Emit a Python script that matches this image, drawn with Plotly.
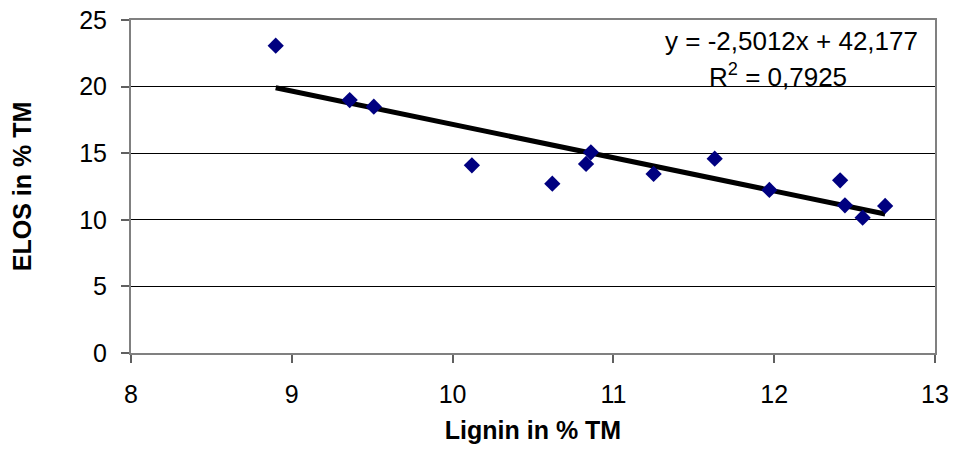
import plotly.graph_objects as go

# Data
lignin = [8.90, 9.36, 9.51, 10.12, 10.62, 10.83, 10.86, 11.25, 11.63, 11.97, 12.41, 12.44, 12.55, 12.69]
elos = [23.07, 18.99, 18.49, 14.09, 12.71, 14.19, 15.07, 13.44, 14.59, 12.24, 12.96, 11.09, 10.16, 11.04]

trend_slope = -2.5012
trend_intercept = 42.177
equation_text = "y = -2,5012x + 42,177"
r2_text = "R<sup>2</sup> = 0,7925"

x_ticks = [8, 9, 10, 11, 12, 13]
y_ticks = [0, 5, 10, 15, 20, 25]

FONT = "Liberation Sans, Arial, sans-serif"

trend_x = [min(lignin), max(lignin)]
trend_y = [trend_slope * v + trend_intercept for v in trend_x]

fig = go.Figure()
fig.add_trace(go.Scatter(
    x=trend_x, y=trend_y, mode="lines",
    line=dict(color="black", width=5),
    hoverinfo="skip", showlegend=False,
))
fig.add_trace(go.Scatter(
    x=lignin, y=elos, mode="markers",
    marker=dict(symbol="diamond", size=12.5, color="#000080", line=dict(width=0)),
    showlegend=False,
))

fig.update_layout(
    width=953, height=450,
    margin=dict(l=131, r=18, t=20, b=97, autoexpand=False),
    paper_bgcolor="white", plot_bgcolor="white",
    font=dict(family=FONT, size=25, color="black"),
    xaxis=dict(
        range=[8, 13], tickvals=x_ticks, showgrid=False, zeroline=False,
        showline=True, linecolor="#808080", linewidth=2, mirror=True,
        ticks="outside", ticklen=8, tickcolor="#606060", tickwidth=1.5,
        ticklabelstandoff=10, automargin=False,
        title=dict(text="<b>Lignin in % TM</b>", standoff=14, font=dict(size=25)),
    ),
    yaxis=dict(
        range=[0, 25], tickvals=y_ticks, showgrid=True, gridcolor="black", gridwidth=1,
        zeroline=False,
        showline=True, linecolor="#808080", linewidth=2, mirror=True,
        ticks="outside", ticklen=8, tickcolor="#606060", tickwidth=1.5,
        ticklabelstandoff=9, automargin=False,
        title=dict(text="<b>ELOS in % TM</b>", standoff=40, font=dict(size=25)),
    ),
    annotations=[
        dict(text=equation_text, xref="paper", yref="paper", x=0.822, y=0.936,
             xanchor="center", yanchor="middle", showarrow=False,
             font=dict(family=FONT, size=26, color="black")),
        dict(text=r2_text, xref="paper", yref="paper", x=0.805, y=0.834,
             xanchor="center", yanchor="middle", showarrow=False,
             font=dict(family=FONT, size=26, color="black")),
    ],
)

fig.write_html("out.html", config={"displayModeBar": False},
               post_script="document.body.style.margin='0';document.body.style.overflow='hidden';")
